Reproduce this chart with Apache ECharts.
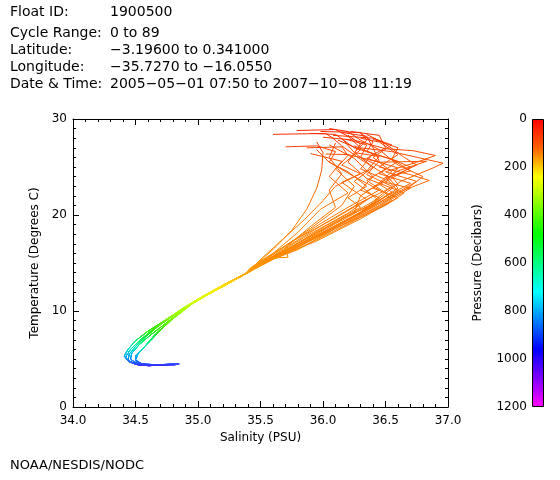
<!DOCTYPE html>
<html>
<head>
<meta charset="utf-8">
<script src="https://cdn.jsdelivr.net/npm/echarts@6/dist/echarts.min.js"></script>
<style>html,body{margin:0;padding:0;background:#fff}#c{width:560px;height:480px}</style>
</head>
<body>
<div id="c"></div>
<script>
// ---- header text ----
var headerLabels = ['Float ID:', 'Cycle Range:', 'Latitude:', 'Longitude:', 'Date & Time:'];
var headerValues = ['1900500', '0 to 89', '\u22123.19600 to 0.341000', '\u221235.7270 to \u221216.0550', '2005\u221205\u221201 07:50 to 2007\u221210\u221208 11:19'];
var footerText = 'NOAA/NESDIS/NODC';

// ---- axes ----
var salinityTicks = [34.0, 34.5, 35.0, 35.5, 36.0, 36.5, 37.0];
var temperatureTicks = [0, 10, 20, 30];
var pressureTicks = [0, 200, 400, 600, 800, 1000, 1200];

// ---- upper-ocean parts of profiles [salinity, temperature], surface first ----
var upper1 = [[35.60,28.4],[36.02,28.5],[36.08,28.0],[36.15,27.2],[36.3,25.8],[36.5,24.2],[36.6,22.8],[36.35,20.6],[36.05,18.4],[35.75,16.3],[35.50,14.8]];
var upper2 = [[35.79,28.8],[36.1,28.9],[36.2,28.2],[36.3,27.0],[36.55,26.6],[36.96,25.4],[36.88,24.9],[36.62,23.5],[36.4,21.2],[36.1,19.1],[35.8,16.9],[35.52,15.0]];
var upper3 = [[35.87,27.0],[36.15,27.1],[36.2,26.2],[36.1,24.8],[36.25,23.0],[36.15,21.0],[35.9,18.6],[35.62,16.1],[35.44,14.5]];
var upper4 = [[36.02,26.35],[36.2,26.3],[36.45,25.5],[36.83,25.6],[36.6,24.6],[36.45,23.2],[36.55,22.4],[36.3,20.3],[35.98,18.1],[35.68,16.0],[35.46,14.7]];
var upper5 = [[36.05,29.0],[36.2,28.7],[36.3,27.8],[36.45,26.8],[36.6,25.2],[36.8,24.0],[36.7,23.0],[36.45,21.0],[36.2,19.3],[35.9,17.4],[35.56,15.3]];
var upper6 = [[35.95,27.6],[36.0,26.5],[35.99,24.7],[35.95,22.8],[35.87,20.6],[35.75,18.4],[35.6,16.4],[35.45,14.7]];
var upper7 = [[36.15,28.6],[36.35,28.2],[36.4,27.0],[36.45,25.6],[36.35,24.2],[36.55,23.0],[36.4,21.4],[36.1,19.2],[35.78,16.9],[35.5,15.0]];
var upper8 = [[36.0,28.1],[36.25,27.8],[36.5,26.9],[36.72,26.7],[36.9,26.2],[36.75,25.5],[36.5,24.5],[36.75,23.5],[36.55,22.0],[36.25,19.9],[35.9,17.5],[35.57,15.4]];
var upper9 = [[36.2,28.3],[36.3,27.4],[36.2,25.5],[36.35,23.8],[36.65,22.3],[36.5,21.0],[36.15,18.9],[35.82,16.8],[35.52,15.0]];
var upper10 = [[35.9,28.5],[36.1,28.4],[36.25,27.0],[36.55,25.8],[36.7,25.0],[36.55,23.8],[36.35,22.5],[36.45,21.5],[36.15,19.6],[35.85,17.4],[35.55,15.2]];
var upper11 = [[36.3,28.0],[36.45,27.6],[36.6,26.3],[36.45,25.0],[36.7,24.2],[36.85,23.6],[36.65,22.6],[36.4,20.8],[36.05,18.5],[35.72,16.4],[35.48,14.8]];
var upper12 = [[36.1,27.5],[36.05,26.0],[36.15,24.3],[36.05,22.6],[36.1,20.8],[35.9,18.8],[35.7,16.6],[35.72,15.6],[35.56,15.5],[35.42,14.4]];
var upper13 = [[36.25,27.2],[36.4,26.4],[36.3,24.8],[36.5,23.7],[36.3,22.0],[36.25,20.3],[35.95,18.2],[35.65,16.0],[35.45,14.6]];
var upper14 = [[36.35,28.4],[36.5,27.4],[36.65,26.0],[36.75,25.2],[36.55,24.0],[36.6,23.2],[36.3,21.3],[36.0,19.0],[35.7,16.6],[35.5,14.9]];
var upper15 = [[35.98,28.7],[36.3,28.6],[36.35,27.8],[36.25,26.5],[36.4,25.0],[36.25,23.5],[36.4,22.0],[36.2,20.2],[35.88,17.9],[35.6,15.7],[35.43,14.5]];
var upper16 = [[36.08,28.3],[36.4,28.0],[36.55,27.3],[36.4,26.0],[36.55,24.5],[36.4,22.8],[36.6,21.8],[36.3,19.6],[35.95,17.3],[35.62,15.5]];
var upper17 = [[36.12,27.8],[36.3,26.8],[36.15,25.2],[36.3,24.3],[36.1,23.0],[36.0,21.5],[35.85,19.5],[35.68,17.5],[35.52,15.6],[35.44,14.6]];
var upper18 = [[35.95,26.8],[36.05,25.5],[36.2,24.5],[36.35,23.0],[36.2,21.8],[36.3,20.8],[36.0,18.7],[35.7,16.3],[35.47,14.8]];
var upper19 = [[36.22,28.7],[36.45,28.3],[36.5,27.0],[36.35,25.9],[36.6,24.9],[36.5,23.4],[36.7,22.8],[36.45,20.9],[36.1,18.6],[35.8,16.4],[35.52,15.0]];
var upper20 = [[36.4,27.9],[36.6,27.0],[36.55,25.8],[36.7,24.6],[36.5,23.9],[36.6,22.5],[36.3,20.1],[35.95,17.8],[35.63,15.7],[35.46,14.7]];
var upper21 = [[36.05,27.3],[36.25,25.9],[36.4,24.0],[36.3,22.6],[36.45,21.8],[36.25,19.8],[35.92,17.6],[35.6,15.6],[35.44,14.6]];
var upper22 = [[36.18,27.9],[36.35,27.3],[36.3,26.0],[36.5,24.8],[36.35,23.6],[36.5,22.3],[36.55,21.5],[36.25,19.4],[35.9,17.1],[35.58,15.3]];
var upper23 = [[35.7,27.1],[35.95,27.2],[36.1,26.6],[36.05,25.5],[36.25,24.0],[36.45,22.6],[36.2,20.8],[35.98,19.1],[35.75,17.2],[35.5,15.0]];
var upper24 = [[36.3,28.5],[36.4,27.6],[36.35,26.6],[36.6,25.6],[36.45,24.3],[36.7,23.3],[36.5,21.9],[36.2,19.5],[35.85,17.0],[35.55,15.2]];
var upper25 = [[36.15,28.0],[36.25,26.5],[36.45,26.1],[36.35,24.6],[36.15,23.4],[36.35,21.6],[36.1,19.7],[35.8,17.6],[35.55,15.6],[35.42,14.5]];
var upper26 = [[35.9,26.4],[36.15,25.6],[36.05,24.0],[36.2,22.3],[35.98,20.6],[35.8,18.2],[35.6,16.0],[35.45,14.7]];

// ---- deep parts of profiles ----
var deep1 = [[35.38,13.9],[35.2,12.7],[35.02,11.4],[34.88,10.3],[34.76,9.2],[34.64,8.1],[34.54,7.0],[34.46,6.0],[34.42,5.2],[34.45,4.7],[34.53,4.35],[34.68,4.4],[34.85,4.5]];
var deep2 = [[35.4,14.0],[35.22,12.7],[35.05,11.5],[34.92,10.5],[34.82,9.5],[34.72,8.5],[34.62,7.5],[34.53,6.5],[34.47,5.6],[34.46,5.0],[34.5,4.6],[34.58,4.35],[34.72,4.35]];
var deep3 = [[35.38,13.9],[35.19,12.5],[35.0,11.2],[34.85,10.0],[34.72,8.9],[34.6,7.9],[34.5,6.9],[34.44,6.0],[34.41,5.3],[34.44,4.8],[34.52,4.45],[34.62,4.3]];
var deep4 = [[35.4,14.0],[35.23,12.8],[35.08,11.7],[34.96,10.8],[34.86,9.8],[34.76,8.8],[34.66,7.6],[34.58,6.4],[34.52,5.5],[34.5,4.9],[34.55,4.5],[34.66,4.4],[34.8,4.45]];
var deep5 = [[35.39,14.0],[35.21,12.6],[35.04,11.5],[34.9,10.4],[34.79,9.4],[34.68,8.4],[34.58,7.3],[34.5,6.3],[34.45,5.5],[34.44,4.9],[34.49,4.5],[34.6,4.3],[34.75,4.4]];
var deep6 = [[35.4,14.0],[35.24,12.9],[35.1,11.9],[34.98,11.0],[34.88,10.1],[34.79,9.1],[34.7,8.0],[34.62,6.9],[34.55,6.0],[34.5,5.3],[34.5,4.8],[34.56,4.45],[34.7,4.35],[34.82,4.4]];

var uppers = [upper1, upper2, upper3, upper4, upper5, upper6, upper7, upper8, upper9, upper10, upper11, upper12, upper13,
              upper14, upper15, upper16, upper17, upper18, upper19, upper20, upper21, upper22, upper23, upper24, upper25, upper26];
var deeps = [deep1, deep2, deep3, deep4, deep5, deep6];

var profiles = uppers.map(function (u, i) { return u.concat(deeps[i % deeps.length]); });

var series = profiles.map(function (p) {
  return {
    type: 'line', xAxisIndex: 0, yAxisIndex: 0, data: p,
    showSymbol: false, symbol: 'none', silent: true, animation: false,
    lineStyle: { width: 1 }
  };
});

// colour bar
series.push({
  type: 'bar', xAxisIndex: 2, yAxisIndex: 2, data: [1200], barWidth: '100%', silent: true, animation: false,
  itemStyle: {
    borderColor: '#000', borderWidth: 1,
    color: new echarts.graphic.LinearGradient(0, 0, 0, 1, [
      { offset: 0, color: '#ff0000' },
      { offset: 0.1, color: '#ff6000' },
      { offset: 0.2, color: '#ffff00' },
      { offset: 0.4, color: '#00ff00' },
      { offset: 0.6, color: '#00ffff' },
      { offset: 0.8, color: '#0000ff' },
      { offset: 1, color: '#ff00ff' }
    ])
  }
});

var FONT = 'DejaVu Sans';
var graphics = [];
var headerY = [13, 34, 51, 68, 85];
headerLabels.forEach(function (t, i) {
  graphics.push({ type: 'text', left: 10, top: headerY[i] - 8, style: { text: t, font: '14px "' + FONT + '"', fill: '#000' } });
  graphics.push({ type: 'text', left: 110, top: headerY[i] - 8, style: { text: headerValues[i], font: '14px "' + FONT + '"', fill: '#000' } });
});
graphics.push({ type: 'text', left: 10, top: 459, style: { text: footerText, font: '13px "' + FONT + '"', fill: '#000' } });

var axisCommon = {
  axisLine: { show: true, onZero: false, lineStyle: { color: '#000', width: 1 } },
  axisTick: { show: true, inside: true, length: 6, lineStyle: { color: '#000' } },
  minorTick: { show: true, length: 3, lineStyle: { color: '#000' } },
  splitLine: { show: false },
  axisLabel: { color: '#000', fontFamily: FONT, fontSize: 12 }
};

function merge(a, b) { return Object.assign({}, JSON.parse(JSON.stringify(a)), b); }

var option = {
  backgroundColor: '#fff',
  animation: false,
  textStyle: { fontFamily: FONT },
  graphic: graphics,
  grid: [
    { left: 73, top: 119, width: 375, height: 288, show: false },
    { left: 532, top: 119, width: 12, height: 288, show: false }
  ],
  visualMap: {
    show: false, type: 'continuous', dimension: 1, min: 4, max: 29,
    seriesIndex: profiles.map(function (p, i) { return i; }),
    inRange: { color: ['#5000ff','#0090ff','#00e0d0','#00f060','#30e800','#70f000','#a8ff00','#d0ff00','#f0f000','#ffd000','#ffa000','#ff9000','#ff8800','#ff8400','#ff8000','#ff7c00','#ff7800','#ff7400','#ff7000','#ff6800','#ff6000','#ff5800','#ff5000','#ff4400','#ff3400','#ff2000'] }
  },
  xAxis: [
    merge(axisCommon, {
      type: 'value', gridIndex: 0, min: salinityTicks[0], max: salinityTicks[salinityTicks.length - 1], interval: 0.5,
      minorTick: { show: true, splitNumber: 5, length: 3, lineStyle: { color: '#000' } },
      axisLabel: { color: '#000', fontFamily: FONT, fontSize: 12, margin: 8, formatter: function (v) { return v.toFixed(1); } },
      name: 'Salinity (PSU)', nameLocation: 'middle', nameGap: 24,
      nameTextStyle: { color: '#000', fontFamily: FONT, fontSize: 12 }
    }),
    merge(axisCommon, {
      type: 'value', gridIndex: 0, position: 'top', min: 34, max: 37, interval: 0.5,
      minorTick: { show: true, splitNumber: 5, length: 3, lineStyle: { color: '#000' } },
      axisLabel: { show: false }
    }),
    { type: 'category', gridIndex: 1, data: [''], show: false }
  ],
  yAxis: [
    merge(axisCommon, {
      type: 'value', gridIndex: 0, min: temperatureTicks[0], max: temperatureTicks[temperatureTicks.length - 1], interval: 10,
      minorTick: { show: true, splitNumber: 10, length: 3, lineStyle: { color: '#000' } },
      axisLabel: { color: '#000', fontFamily: FONT, fontSize: 12, margin: 6 },
      name: 'Temperature (Degrees C)', nameLocation: 'middle', nameGap: 28,
      nameTextStyle: { color: '#000', fontFamily: FONT, fontSize: 12 }
    }),
    merge(axisCommon, {
      type: 'value', gridIndex: 0, position: 'right', min: 0, max: 30, interval: 10,
      minorTick: { show: true, splitNumber: 10, length: 3, lineStyle: { color: '#000' } },
      axisLabel: { show: false }
    }),
    {
      type: 'value', gridIndex: 1, inverse: true, min: pressureTicks[0], max: pressureTicks[pressureTicks.length - 1], interval: 200,
      axisLine: { show: false }, axisTick: { show: false }, splitLine: { show: false },
      axisLabel: { color: '#000', fontFamily: FONT, fontSize: 12, margin: 5, formatter: function (v) { return String(v); } },
      name: 'Pressure (Decibars)', nameLocation: 'middle', nameGap: 48,
      nameTextStyle: { color: '#000', fontFamily: FONT, fontSize: 12 }
    }
  ],
  series: series
};

var chart = echarts.init(document.getElementById('c'), null, { renderer: 'canvas' });
chart.setOption(option);
</script>
</body>
</html>
